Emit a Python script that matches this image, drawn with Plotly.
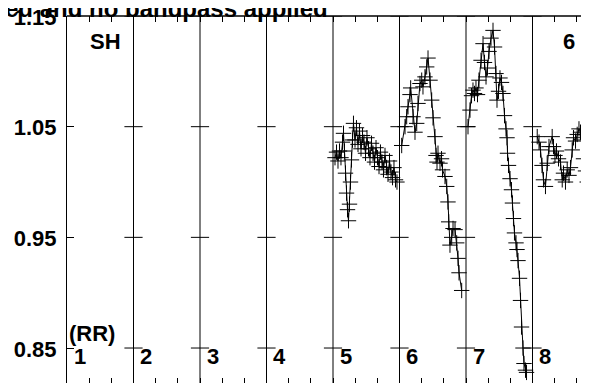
import plotly.graph_objects as go

# ---- data (x = position within panel, % of panel width; y = normalized value) ----
p5_x = [3, 5.3, 7.5, 9.8, 12, 14.3, 15.8, 17.3, 18.8, 20.3, 21.8, 23.3, 24.8, 26.3, 27.8, 29.3,
        30.8, 33.1, 35.3, 37.6, 39.8, 42.1, 44.4, 46.6, 48.9, 51.1, 53.4, 55.6, 57.9, 60.2, 62.4,
        64.7, 66.9, 69.2, 71.4, 73.7, 75.9, 78.2, 80.5, 82.7, 85, 87.2, 89.5, 91.7, 94, 96.2]
p5_y = [1.022, 1.027, 1.019, 1.028, 1.022, 1.036, 1.044, 1.028, 1.008, 0.990, 0.975, 0.965,
        0.980, 1.000, 1.020, 1.038, 1.053, 1.038, 1.049, 1.034, 1.046, 1.030, 1.042, 1.036,
        1.026, 1.040, 1.030, 1.022, 1.035, 1.026, 1.018, 1.031, 1.022, 1.014, 1.027, 1.018,
        1.011, 1.024, 1.013, 1.007, 1.019, 1.009, 1.004, 1.013, 1.002, 1.000]

p6_x = [3.3, 8.3, 10.8, 12.8, 15.8, 16.8, 20.3, 23.3, 25.9, 27.8, 30.8, 33.4, 35.3, 38.3, 40.9,
        42.9, 45.9, 48.4, 50.4, 53.4, 54.9, 56.4, 57.9, 60.9, 63.2, 64.7, 68.4, 71, 72.9, 74,
        75.9, 78.5, 80.5, 83.5, 86, 88, 89.5, 93.5]
p6_y = [1.033, 1.050, 1.059, 1.068, 1.079, 1.085, 1.059, 1.045, 1.053, 1.071, 1.089, 1.092,
        1.086, 1.095, 1.104, 1.112, 1.092, 1.074, 1.058, 1.041, 1.024, 1.018, 1.026, 1.017,
        1.021, 1.011, 1.005, 0.996, 0.982, 0.964, 0.943, 0.950, 0.958, 0.957, 0.945, 0.931,
        0.918, 0.902]

p7_x = [3, 6, 8.3, 10.5, 12.8, 15, 17.3, 19.5, 22.6, 25.6, 27.8, 30.1, 32.3, 34.6, 37.6, 40.6,
        42.9, 45.1, 46.6, 48.9, 51.1, 53.4, 55.6, 57.9, 60.2, 61.7, 62.4, 63.9, 66.2, 68.4, 69.9,
        71.4, 72.9, 75.2, 76.7, 78.2, 80.5, 82, 83.5, 85.7, 87.2, 89.5, 91]
p7_y = [1.050, 1.065, 1.078, 1.083, 1.080, 1.085, 1.079, 1.092, 1.110, 1.125, 1.108, 1.095,
        1.103, 1.118, 1.130, 1.137, 1.122, 1.098, 1.074, 1.082, 1.094, 1.090, 1.080, 1.060,
        1.048, 1.040, 1.026, 1.015, 1.003, 0.993, 0.981, 0.967, 0.954, 0.945, 0.939, 0.929,
        0.913, 0.893, 0.869, 0.850, 0.836, 0.830, 0.828]

p8_x = [7.1, 9.8, 12, 14.3, 16.5, 19.5, 22.1, 24.8, 29.6, 31.6, 33.8, 36.1, 39.1, 42.1, 44.7,
        46.6, 49.6, 52.2, 54.9, 57.1, 59.7, 61.7, 64.7, 67.2, 69.9, 72.2, 74.7, 76.7, 79.7, 82.3,
        85.7, 90.2]
p8_y = [1.041, 1.036, 1.029, 1.015, 1.002, 0.996, 1.017, 1.032, 1.041, 1.032, 1.024, 1.028,
        1.021, 1.018, 1.002, 1.008, 1.000, 1.011, 1.006, 1.013, 1.029, 1.040, 1.037, 1.043,
        1.048, 1.045, 1.038, 1.021, 1.010, 1.000, 0.999, 1.010]

panel_labels = ["1", "2", "3", "4", "5", "6", "7", "8"]
panel_bounds = [1, 2, 3, 4, 5, 6, 7]
ytick_vals = [0.85, 0.95, 1.05, 1.15]
ytick_text = ["0.85", "0.95", "1.05", "1.15"]
title_text = "ed and no bandpass applied"

FONT = "Liberation Sans, Arial, sans-serif"
series = [(5, p5_x, p5_y), (6, p6_x, p6_y), (7, p7_x, p7_y), (8, p8_x, p8_y)]

fig = go.Figure()
for panel, xs, ys in series:
    fig.add_trace(go.Scatter(
        x=[panel - 1 + v / 100.0 for v in xs], y=ys, mode="lines+markers",
        line=dict(color="black", width=1),
        marker=dict(symbol="cross-thin-open", size=11, color="black",
                    line=dict(color="black", width=1)),
        showlegend=False, hoverinfo="skip"))

# crossing tick marks at the panel boundaries
fig.add_trace(go.Scatter(
    x=[b for b in panel_bounds for _ in ytick_vals],
    y=[v for _ in panel_bounds for v in ytick_vals],
    mode="markers", xaxis="x2",
    marker=dict(symbol="line-ew-open", size=13, color="black",
                line=dict(color="black", width=1)),
    showlegend=False, hoverinfo="skip"))

for b in panel_bounds:
    fig.add_shape(type="line", xref="x", yref="paper", x0=b, x1=b, y0=0, y1=1,
                  line=dict(color="black", width=1))
fig.add_shape(type="line", xref="paper", yref="paper", x0=0, x1=1, y0=1, y1=1,
              line=dict(color="black", width=1.3))

for i, lab in enumerate(panel_labels):
    fig.add_annotation(x=i + 0.07, y=0.8425, xref="x", yref="y", text=lab, showarrow=False,
                       xanchor="left", yanchor="middle",
                       font=dict(family=FONT, size=22, color="black", weight="bold"))

fig.add_annotation(x=0.586, y=1.127, xref="x", yref="y", text="SH", showarrow=False,
                   xanchor="center", yanchor="middle",
                   font=dict(family=FONT, size=22, color="black", weight="bold"))
fig.add_annotation(x=7.55, y=1.127, xref="x", yref="y", text="6", showarrow=False,
                   xanchor="center", yanchor="middle",
                   font=dict(family=FONT, size=22, color="black", weight="bold"))
fig.add_annotation(x=0.0, y=0.8635, xref="x", yref="y", text="(RR)", showarrow=False,
                   xanchor="left", yanchor="middle",
                   font=dict(family=FONT, size=22, color="black", weight="bold"))
fig.add_annotation(x=-0.1203, y=0.9794, xref="paper", yref="paper", text=title_text,
                   showarrow=False, xanchor="left", yanchor="bottom",
                   font=dict(family=FONT, size=24, color="black", weight="bold"))

xr = [0, 8]
fig.update_layout(
    width=600, height=390,
    margin=dict(l=59, r=9, t=8, b=14, pad=0, autoexpand=False),
    paper_bgcolor="white", plot_bgcolor="white",
    xaxis=dict(range=xr, showgrid=False, zeroline=False, showline=False, automargin=False,
               ticks="inside", ticklen=6, tickcolor="black", tickwidth=1,
               tick0=0, dtick=1 / 3, showticklabels=False, mirror="ticks"),
    xaxis2=dict(range=xr, overlaying="x", side="top", showgrid=False, zeroline=False,
                automargin=False, showline=False, showticklabels=False, ticks=""),
    yaxis=dict(range=[0.8175, 1.15], showgrid=False, zeroline=False, showline=True,
               automargin=False,
               linecolor="black", linewidth=1, ticks="inside", ticklen=7, tickcolor="black",
               tickvals=ytick_vals, ticktext=ytick_text, ticklabelstandoff=5,
               ticklabelshift=1, ticklabeloverflow="allow",
               tickfont=dict(family=FONT, size=22, color="black", weight="bold")),
)
fig.write_html("out.html")
